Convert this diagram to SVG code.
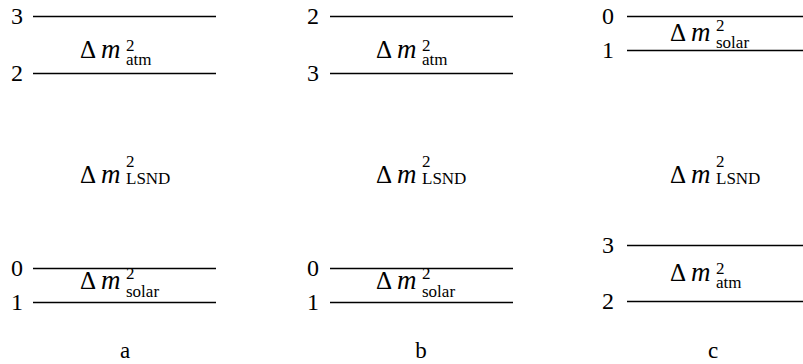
<svg xmlns="http://www.w3.org/2000/svg" width="803" height="364" viewBox="0 0 803 364">
<style>
.lvl{stroke:#000;stroke-width:1.3;fill:none}
text{font-family:'Liberation Serif','DejaVu Serif','Noto Serif','Tinos','Times New Roman','Times','FreeSerif','Nimbus Roman','Nimbus Roman No9 L',serif;fill:#000}
.num{font-size:24px;text-anchor:middle}
.dm{font-size:25px}
.m{font-style:italic;font-size:27px}
.sup,.sub{font-size:17px}
.cap{font-size:23px;text-anchor:middle}
</style>
<rect width="803" height="364" fill="#fff"/>
<g id="connectors">
<line class="lvl" x1="33" y1="16.5" x2="216" y2="16.5"/>
<line class="lvl" x1="33" y1="73.5" x2="216" y2="73.5"/>
<line class="lvl" x1="33" y1="268.5" x2="216" y2="268.5"/>
<line class="lvl" x1="33" y1="302.5" x2="216" y2="302.5"/>
<line class="lvl" x1="330" y1="16.5" x2="513" y2="16.5"/>
<line class="lvl" x1="330" y1="73.5" x2="513" y2="73.5"/>
<line class="lvl" x1="330" y1="268.5" x2="513" y2="268.5"/>
<line class="lvl" x1="330" y1="302.5" x2="513" y2="302.5"/>
<line class="lvl" x1="627" y1="16.5" x2="803" y2="16.5"/>
<line class="lvl" x1="627" y1="50.5" x2="803" y2="50.5"/>
<line class="lvl" x1="627" y1="245.5" x2="803" y2="245.5"/>
<line class="lvl" x1="627" y1="301.5" x2="803" y2="301.5"/>
</g>
<g id="panel-a">
<text class="num" x="17" y="24">3</text>
<text class="num" x="17" y="81">2</text>
<text class="num" x="17" y="276">0</text>
<text class="num" x="17" y="310">1</text>
<text class="dm" x="80" y="58">Δ<tspan class="m" x="101">m</tspan><tspan class="sup" x="126" dy="-7">2</tspan><tspan class="sub" x="126" dy="14">atm</tspan></text>
<text class="dm" x="80" y="183">Δ<tspan class="m" x="101">m</tspan><tspan class="sup" x="126" dy="-16">2</tspan><tspan class="sub" x="126" dy="17">LSND</tspan></text>
<text class="dm" x="80" y="289">Δ<tspan class="m" x="101">m</tspan><tspan class="sup" x="126" dy="-10">2</tspan><tspan class="sub" x="126" dy="18">solar</tspan></text>
<text class="cap" x="125" y="358">a</text>
</g>
<g id="panel-b">
<text class="num" x="313" y="24">2</text>
<text class="num" x="313" y="81">3</text>
<text class="num" x="313" y="276">0</text>
<text class="num" x="313" y="310">1</text>
<text class="dm" x="376" y="58">Δ<tspan class="m" x="397">m</tspan><tspan class="sup" x="422" dy="-7">2</tspan><tspan class="sub" x="422" dy="14">atm</tspan></text>
<text class="dm" x="376" y="183">Δ<tspan class="m" x="397">m</tspan><tspan class="sup" x="422" dy="-16">2</tspan><tspan class="sub" x="422" dy="17">LSND</tspan></text>
<text class="dm" x="376" y="289">Δ<tspan class="m" x="397">m</tspan><tspan class="sup" x="422" dy="-10">2</tspan><tspan class="sub" x="422" dy="18">solar</tspan></text>
<text class="cap" x="421" y="358">b</text>
</g>
<g id="panel-c">
<text class="num" x="608" y="24">0</text>
<text class="num" x="608" y="58">1</text>
<text class="num" x="608" y="253">3</text>
<text class="num" x="608" y="309">2</text>
<text class="dm" x="670" y="41">Δ<tspan class="m" x="691">m</tspan><tspan class="sup" x="716" dy="-10">2</tspan><tspan class="sub" x="716" dy="17">solar</tspan></text>
<text class="dm" x="670" y="183">Δ<tspan class="m" x="691">m</tspan><tspan class="sup" x="716" dy="-16">2</tspan><tspan class="sub" x="716" dy="17">LSND</tspan></text>
<text class="dm" x="670" y="281">Δ<tspan class="m" x="691">m</tspan><tspan class="sup" x="716" dy="-7">2</tspan><tspan class="sub" x="716" dy="14">atm</tspan></text>
<text class="cap" x="713" y="358">c</text>
</g>
</svg>
